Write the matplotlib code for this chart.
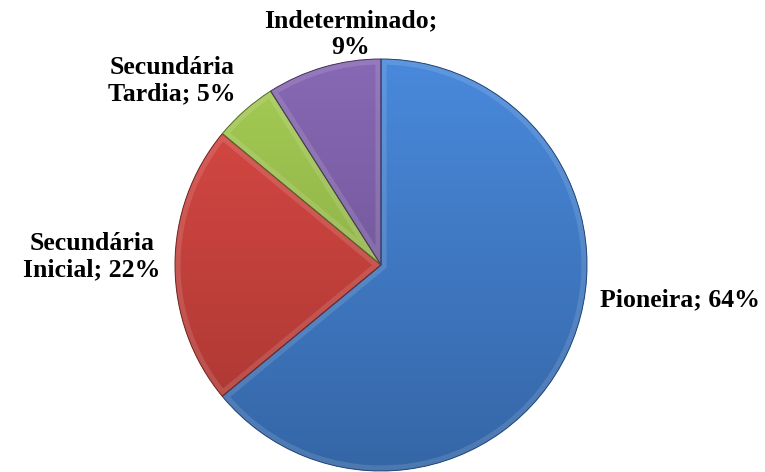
import numpy as np
import matplotlib.pyplot as plt
from matplotlib.colors import to_rgb
from matplotlib.patches import PathPatch

labels = ['Pioneira', 'Secundária\nInicial', 'Secundária\nTardia', 'Indeterminado;\n']
values = [64, 22, 5, 9]
colors = ['#4280D0', '#D0433E', '#9CC24D', '#7E60AA']

# where each label sits (pixels from top-left)
label_xy = [(680, 300), (92, 257), (172, 81), (351, 34)]

W, H = 765, 472
fig = plt.figure(figsize=(W / 100, H / 100), dpi=100)
ax = fig.add_axes([0, 0, 1, 1])

cx, cy, r = 381, H - 265, 206
wedges, _ = ax.pie(values, startangle=90, counterclock=False, colors=colors,
                   center=(cx, cy), radius=r, frame=True,
                   wedgeprops=dict(linewidth=0))
ax.set_xlim(0, W)
ax.set_ylim(0, H)
ax.set_aspect('equal')
ax.axis('off')

# vertical light-to-dark shading, plus a soft bevel along each wedge's rim
yy = np.linspace(0, 1, 300)[:, None, None] * np.ones((1, 300, 1))
for w, c in zip(wedges, colors):
    base = np.array(to_rgb(c))
    top = np.clip(base * 1.03 + 0.02, 0, 1)
    bot = base * 0.80
    img = top * (1 - yy) + bot * yy
    im = ax.imshow(img, extent=(cx - r, cx + r, cy - r, cy + r), origin='upper',
                   zorder=2, interpolation='bilinear')
    im.set_clip_path(w)
    path, tr = w.get_path(), w.get_transform()
    ax.add_patch(PathPatch(path, transform=tr, fill=False, edgecolor=(1, 1, 1, 0.12),
                           linewidth=8, zorder=3, clip_path=w))
    ax.add_patch(PathPatch(path, transform=tr, fill=False, edgecolor=tuple(base * 0.55),
                           linewidth=0.7, zorder=4))

ax.set_xlim(0, W)
ax.set_ylim(0, H)

for lab, v, (x, y) in zip(labels, values, label_xy):
    if lab.endswith('\n'):
        txt = f'{lab}{v}%'
    else:
        txt = f'{lab}; {v}%'
    ax.text(x, H - y, txt, ha='center', va='center', family='Liberation Serif',
            fontweight='bold', fontsize=18.5, linespacing=1.18, zorder=5)

fig.savefig('out.png', dpi=100)
